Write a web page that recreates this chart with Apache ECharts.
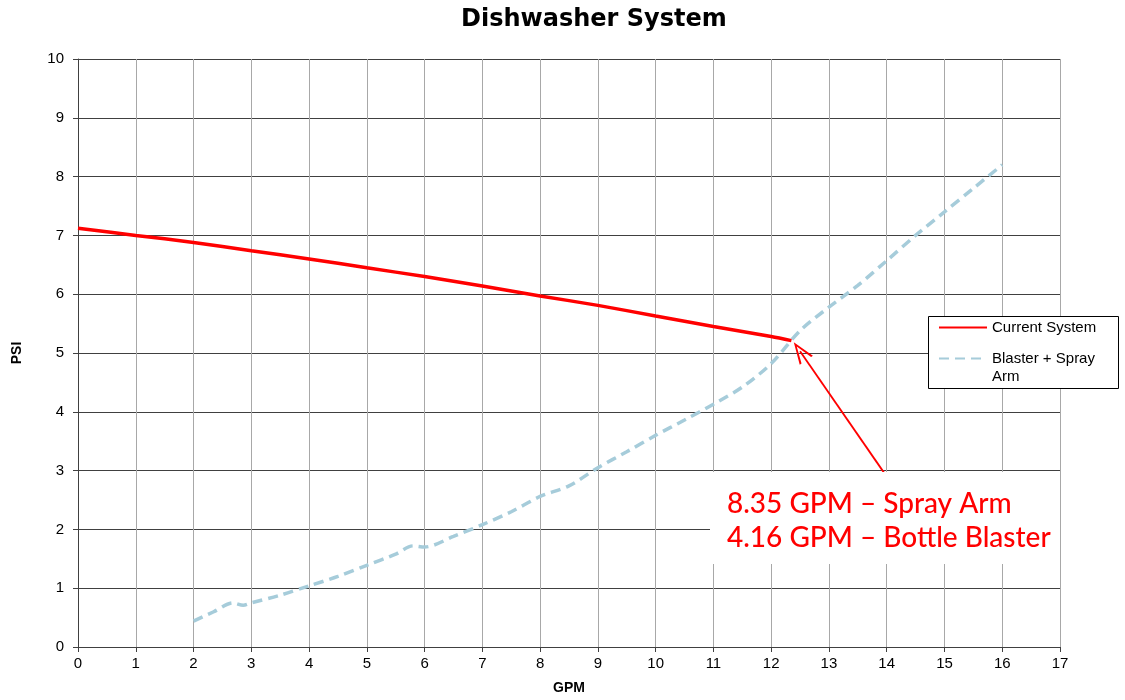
<!DOCTYPE html>
<html>
<head>
<meta charset="utf-8">
<script src="https://cdn.jsdelivr.net/npm/echarts@6/dist/echarts.min.js"></script>
<style>html,body{margin:0;padding:0;background:#fff;}#chart{width:1125px;height:700px;}</style>
</head>
<body>
<div id="chart"></div>
<script>
const titleText = 'Dishwasher System';
const xAxisName = 'GPM';
const yAxisName = 'PSI';
const seriesNames = ['Current System', 'Blaster + Spray Arm'];
const legendLines = ['Blaster + Spray', 'Arm'];
const gpmCurrent = [0, 1, 2, 3, 4, 5, 6, 7, 8, 9, 10, 11, 12, 12.35];
const psiCurrent = [7.12, 7.0, 6.88, 6.74, 6.6, 6.45, 6.3, 6.14, 5.97, 5.81, 5.63, 5.45, 5.28, 5.21];
const gpmBlaster = [2, 2.35, 2.68, 2.86, 3, 3.5, 4, 4.5, 5, 5.5, 5.8, 6, 6.5, 7, 7.5, 8, 8.5, 9, 9.5, 10, 10.5, 11, 11.5, 12, 12.5, 13, 13.5, 14, 14.5, 15, 15.5, 16];
const psiBlaster = [0.44, 0.6, 0.75, 0.71, 0.75, 0.88, 1.04, 1.2, 1.39, 1.58, 1.72, 1.7, 1.88, 2.08, 2.3, 2.56, 2.74, 3.05, 3.32, 3.6, 3.86, 4.13, 4.42, 4.82, 5.38, 5.78, 6.15, 6.57, 7.0, 7.4, 7.8, 8.2];
const arrowFrom = [13.95, 2.97];
const arrowTo = [12.5, 5.03];
const noteLines = ['8.35 GPM – Spray Arm', '4.16 GPM – Bottle Blaster'];

const chart = echarts.init(document.getElementById('chart'));
const zip = (a, b) => a.map((v, i) => [v, b[i]]);
chart.setOption({
  animation: false,
  backgroundColor: '#fff',
  title: {
    text: titleText, left: 456, top: 3,
    textStyle: { fontFamily: 'DejaVu Sans', fontWeight: 'bold', fontSize: 24, color: '#000' }
  },
  grid: { left: 78, top: 59, right: 65, bottom: 52, containLabel: false },
  xAxis: {
    type: 'value', min: 0, max: 17, interval: 1,
    name: xAxisName, nameLocation: 'middle', nameGap: 34,
    nameTextStyle: { fontFamily: 'Liberation Sans', fontWeight: 'bold', fontSize: 14, color: '#000' },
    axisLine: { show: true, lineStyle: { color: '#404040', width: 1 } },
    axisTick: { show: true, length: 5, lineStyle: { color: '#404040' } },
    axisLabel: { fontFamily: 'Liberation Sans', fontSize: 15, color: '#000', margin: 9 },
    splitLine: { show: true, lineStyle: { color: '#a8a8a8', width: 1 } }
  },
  yAxis: {
    type: 'value', min: 0, max: 10, interval: 1,
    name: yAxisName, nameLocation: 'middle', nameGap: 54, nameRotate: 90,
    nameTextStyle: { fontFamily: 'Liberation Sans', fontWeight: 'bold', fontSize: 14, color: '#000' },
    axisLine: { show: true, lineStyle: { color: '#404040', width: 1 } },
    axisTick: { show: true, length: 5, lineStyle: { color: '#404040' } },
    axisLabel: { fontFamily: 'Liberation Sans', fontSize: 15, color: '#000', margin: 14 },
    splitLine: { show: true, lineStyle: { color: '#404040', width: 1 } }
  },
  legend: {
    orient: 'vertical', left: 928, top: 313, z: 8,
    padding: [6, 10, 6, 10], itemGap: 14, itemWidth: 48, itemHeight: 12,
    itemStyle: { color: 'rgba(0,0,0,0)', borderWidth: 0, opacity: 0 },
    data: seriesNames,
    formatter: n => n === seriesNames[1] ? legendLines[0] : n,
    textStyle: { fontFamily: 'Liberation Sans', fontSize: 15, color: '#000', lineHeight: 17 }
  },
  series: [
    {
      name: seriesNames[0], type: 'line', data: zip(gpmCurrent, psiCurrent),
      symbol: 'none', smooth: 0.3, z: 3,
      lineStyle: { color: '#ff0000', width: 3.5 }, itemStyle: { color: '#ff0000' },
      markLine: {
        silent: true, symbol: ['none', 'path://M5,0 L10.5,11 L9,11 L5,2.6 L1,11 L-0.5,11 Z'], symbolSize: [16, 22],
        label: { show: false },
        lineStyle: { color: '#ff0000', width: 1.8, type: 'solid' },
        data: [[{ coord: arrowFrom }, { coord: arrowTo }]]
      }
    },
    {
      name: seriesNames[1], type: 'line', data: zip(gpmBlaster, psiBlaster),
      symbol: 'none', smooth: 0.3, z: 2,
      lineStyle: { color: '#a6ccda', width: 3.5, type: [10, 6] }, itemStyle: { color: '#a6ccda' }
    }
  ],
  graphic: {
    z: 5,
    elements: [
      { type: 'rect', left: 928, top: 316, shape: { width: 190, height: 72 }, style: { fill: '#fff', stroke: '#000', lineWidth: 1 }, z: 5, silent: true },
      { type: 'text', left: 992, top: 369, z: 9, style: { text: legendLines[1], fill: '#000', font: '15px "Liberation Sans"' } },
      { type: 'rect', left: 710, top: 472, shape: { width: 350, height: 92 }, style: { fill: '#fff' }, z: 10 },
      { type: 'text', left: 727, top: 487, z: 11,
        style: { text: noteLines.join('\n'), fill: '#ff0000', font: '500 28px Lato', lineHeight: 34 } }
    ]
  }
});
</script>
</body>
</html>
